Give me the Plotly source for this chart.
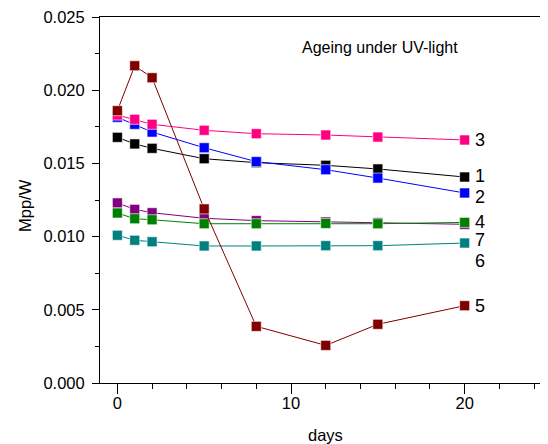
import plotly.graph_objects as go

days = [0, 1, 2, 5, 8, 12, 15, 20]
s1 = [0.01678, 0.01633, 0.01603, 0.01532, 0.01505, 0.01487, 0.01462, 0.01407]
s2 = [0.01815, 0.01767, 0.01714, 0.01607, 0.01512, 0.01457, 0.01400, 0.01298]
s3 = [0.01830, 0.01801, 0.01767, 0.01726, 0.01703, 0.01694, 0.01680, 0.01660]
s4 = [0.01161, 0.01122, 0.01115, 0.01088, 0.01088, 0.01090, 0.01088, 0.01097]
s5 = [0.01860, 0.02167, 0.02085, 0.01189, 0.00387, 0.00257, 0.00401, 0.00528]
s6 = [0.01009, 0.00975, 0.00965, 0.00936, 0.00936, 0.00938, 0.00938, 0.00956]
s7 = [0.01230, 0.01186, 0.01163, 0.01125, 0.01109, 0.01100, 0.01095, 0.01084]

series = [
    ("6", s6, "#008080"),
    ("7", s7, "#800080"),
    ("4", s4, "#008000"),
    ("1", s1, "#000000"),
    ("2", s2, "#0000FF"),
    ("3", s3, "#FF0080"),
    ("5", s5, "#800000"),
]

labels = ["3", "1", "2", "4", "7", "6", "5"]
label_y = [0.0166, 0.01413, 0.01270, 0.01099, 0.00976, 0.00833, 0.00528]

FONT = "Liberation Sans, Arial, sans-serif"

fig = go.Figure()
for name, vals, col in series:
    fig.add_trace(go.Scatter(
        x=days, y=vals, mode="lines+markers", name=name,
        line=dict(color=col, width=1),
        marker=dict(symbol="square", size=10, color=col,
                    line=dict(color="rgba(255,255,255,0.6)", width=1)),
        showlegend=False,
    ))

for lab, ly in zip(labels, label_y):
    fig.add_annotation(x=20, y=ly, text=lab, showarrow=False,
                       xanchor="left", yanchor="middle", xshift=8,
                       font=dict(size=18, color="black", family=FONT))

fig.add_annotation(x=0.626, y=0.918, xref="paper", yref="paper",
                   xanchor="center", yanchor="middle",
                   text="Ageing under UV-light", showarrow=False,
                   font=dict(size=16, color="black", family=FONT))

# axis titles
fig.add_annotation(x=0.504, y=-0.142, xref="paper", yref="paper",
                   xanchor="center", yanchor="middle",
                   text="days", showarrow=False,
                   font=dict(size=16.5, color="black", family=FONT))
fig.add_annotation(x=-0.167, y=0.484, xref="paper", yref="paper",
                   xanchor="center", yanchor="middle",
                   text="Mpp/W", showarrow=False, textangle=-90,
                   font=dict(size=16.5, color="black", family=FONT))

fig.update_layout(
    width=540, height=436,
    margin=dict(l=92, r=0, t=9, b=61, autoexpand=False),
    paper_bgcolor="white", plot_bgcolor="white",
    font=dict(family=FONT, color="black", size=16.5),
    xaxis=dict(
        range=[-1, 24.8], tickvals=[0, 10, 20], ticks="outside", ticklen=10,
        tickwidth=1, tickcolor="black",
        minor=dict(dtick=2, tick0=0, ticks="outside", ticklen=5, tickcolor="black"),
        showline=True, linecolor="black", linewidth=1, mirror=True,
        showgrid=False, zeroline=False,
        tickfont=dict(size=16.5), ticklabelstandoff=-5,
    ),
    yaxis=dict(
        range=[0, 0.025], dtick=0.005, tickformat=".3f", ticks="outside",
        ticklen=7, tickwidth=1, tickcolor="black",
        minor=dict(dtick=0.0025, ticks="outside", ticklen=4, tickcolor="black"),
        showline=True, linecolor="black", linewidth=1,
        showgrid=False, zeroline=False,
        tickfont=dict(size=16.5), ticklabeloverflow="allow",
        ticklabelstandoff=4,
    ),
)

fig.write_html("out.html")
